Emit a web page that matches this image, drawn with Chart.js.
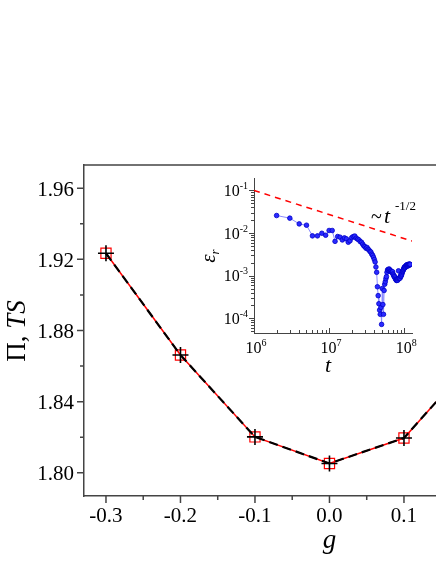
<!DOCTYPE html>
<html>
<head>
<meta charset="utf-8">
<script src="https://cdn.jsdelivr.net/npm/chart.js@4.4.0/dist/chart.umd.min.js"></script>
<style>
  body { margin: 0; background: #fff; }
  #wrap { position: relative; width: 436px; height: 564px; overflow: hidden; }
  #main { position: absolute; left: 0; top: 0; }
  #inset { position: absolute; left: 195px; top: 165px; }
</style>
</head>
<body>
<div id="wrap">
  <canvas id="main" width="436" height="564"></canvas>
  <canvas id="inset" width="241" height="215"></canvas>
</div>
<script>
// main panel: Pi and TS against g
const gValues = [-0.3, -0.2, -0.1, 0.0, 0.1, 0.2];
const piValues = [1.9234, 1.8662, 1.8202, 1.8053, 1.8196, 1.8665];
const tsValues = [1.9234, 1.8662, 1.8202, 1.8053, 1.8196, 1.8665];
const gTicks = [-0.3, -0.2, -0.1, 0.0, 0.1];
const gMinorTicks = [-0.25, -0.15, -0.05, 0.05];
const yTicks = [1.80, 1.84, 1.88, 1.92, 1.96];
const yMinorTicks = [1.82, 1.86, 1.90, 1.94];

// inset: relative error eps_r against t (t in millions)
const tMillions = [2, 3, 4, 5, 6, 7, 8, 9, 10, 11, 12, 13, 14, 15, 16, 17, 18, 19, 20,
  21, 22, 23, 24, 25, 26, 27, 28, 29, 30, 31, 32, 33, 34, 35, 36, 37, 38, 39, 40,
  41, 42, 43, 44, 45, 46, 47, 48, 49, 50, 51, 52, 53, 54, 55, 56, 57, 58, 59, 60,
  61, 62, 63, 64, 65, 66, 67, 68, 69, 70, 71, 72, 73, 74, 75, 76, 77, 78, 79, 80,
  81, 82, 83, 84, 85, 86, 87, 88, 89, 90, 91, 92, 93, 94, 95, 96, 97, 98, 99, 100,
  101, 102, 103, 104, 105, 106, 107, 108, 109, 110, 111, 112, 113, 114, 115, 116, 117, 118, 119, 120];
const epsValues = [0.0258, 0.0224, 0.0164, 0.0153, 0.0086, 0.0086, 0.0099, 0.0089, 0.0115, 0.0115,
  0.0064, 0.0083, 0.0080, 0.0069, 0.0077, 0.0073, 0.0061, 0.0066, 0.0078,
  0.0083, 0.0085, 0.0076, 0.0072, 0.0069, 0.0063, 0.0061, 0.0055, 0.0050, 0.0048,
  0.0044, 0.0046, 0.0042, 0.0040, 0.0037, 0.0036, 0.0032, 0.0030, 0.0027, 0.0024,
  0.0021, 0.0016, 0.0012, 0.00055, 0.00034, 0.00022, 0.000156, 0.000124, 0.00018, 0.000072,
  0.00050, 0.00021, 0.000124, 0.00045, 0.00063, 0.00072, 0.00085, 0.00095, 0.0012, 0.00136,
  0.00140, 0.00132, 0.00144, 0.00138, 0.00130, 0.00126, 0.00129, 0.00122, 0.00118, 0.00124,
  0.00110, 0.00104, 0.00098, 0.00093, 0.00095, 0.00088, 0.00082, 0.00080, 0.00077, 0.00079,
  0.00083, 0.00078, 0.00084, 0.0013, 0.00086, 0.00087, 0.00090, 0.00087, 0.00095, 0.00100,
  0.00098, 0.00104, 0.00110, 0.00118, 0.00125, 0.00130, 0.00136, 0.00140, 0.00148, 0.00155,
  0.00160, 0.00152, 0.00163, 0.00158, 0.00170, 0.00165, 0.00176, 0.00179, 0.00168, 0.00175,
  0.00182, 0.00170, 0.00178, 0.00172, 0.00185, 0.00180, 0.00188, 0.00178, 0.00183, 0.00185];
const guideT = [1e6, 1.27e8];
const guideEps = [0.1, 0.0065];
const tTicks = [1e6, 1e7, 1e8];
const tTickExp = ['6', '7', '8'];
const epsTicks = [1e-1, 1e-2, 1e-3, 1e-4];
const epsTickExp = ['-1', '-2', '-3', '-4'];

const SERIF = '"Liberation Serif", "DejaVu Serif", serif';
const AXIS = '#444';

// tick marks, tick labels, top frame and axis titles of the main panel
const mainExtras = {
    id: 'mainExtras',
    afterDraw(chart) {
        const ctx = chart.ctx;
        const area = chart.chartArea;
        const xs = chart.scales.x, ys = chart.scales.y;
        ctx.save();
        ctx.strokeStyle = AXIS;
        ctx.lineWidth = 1.5;
        ctx.beginPath();
        ctx.moveTo(area.left - 0.75, area.top);
        ctx.lineTo(area.right, area.top);
        gTicks.forEach(v => {
            const px = xs.getPixelForValue(v);
            ctx.moveTo(px, area.bottom);
            ctx.lineTo(px, area.bottom + 7);
        });
        gMinorTicks.forEach(v => {
            const px = xs.getPixelForValue(v);
            ctx.moveTo(px, area.bottom);
            ctx.lineTo(px, area.bottom + 4);
        });
        yTicks.forEach(v => {
            const py = ys.getPixelForValue(v);
            ctx.moveTo(area.left, py);
            ctx.lineTo(area.left - 7, py);
        });
        yMinorTicks.forEach(v => {
            const py = ys.getPixelForValue(v);
            ctx.moveTo(area.left, py);
            ctx.lineTo(area.left - 4, py);
        });
        ctx.stroke();

        ctx.fillStyle = '#000';
        ctx.textBaseline = 'alphabetic';
        ctx.font = '21px ' + SERIF;
        ctx.textAlign = 'center';
        gTicks.forEach(v => ctx.fillText(v.toFixed(1), xs.getPixelForValue(v), 522));
        ctx.textAlign = 'right';
        yTicks.forEach(v => ctx.fillText(v.toFixed(2), area.left - 10, ys.getPixelForValue(v) + 7.5));

        ctx.textAlign = 'left';
        // y title: "Π, TS" with TS in italics
        ctx.save();
        ctx.translate(25, 331);
        ctx.rotate(-Math.PI / 2);
        ctx.font = '27px ' + SERIF;
        const p1 = 'Π, ';
        const w1 = ctx.measureText(p1).width;
        ctx.font = 'italic 27px ' + SERIF;
        const w2 = ctx.measureText('TS').width;
        const x0 = -(w1 + w2) / 2;
        ctx.font = '27px ' + SERIF;
        ctx.fillText(p1, x0, 0);
        ctx.font = 'italic 27px ' + SERIF;
        ctx.fillText('TS', x0 + w1, 0);
        ctx.restore();
        // x title
        ctx.font = 'italic 27px ' + SERIF;
        ctx.textAlign = 'center';
        ctx.fillText('g', xs.getPixelForValue(0), 548);
        ctx.restore();
    }
};

new Chart(document.getElementById('main'), {
    type: 'line',
    data: {
        datasets: [
            {
                label: 'TS',
                data: gValues.map((g, i) => ({ x: g, y: tsValues[i] })),
                borderColor: '#000',
                borderWidth: 2.2,
                borderDash: [9, 5],
                pointStyle: 'cross',
                pointRadius: 8,
                pointBorderColor: '#000',
                pointBorderWidth: 1.6,
                fill: false
            },
            {
                label: 'Π',
                data: gValues.map((g, i) => ({ x: g, y: piValues[i] })),
                borderColor: '#ff0000',
                borderWidth: 1.5,
                pointStyle: 'rect',
                pointRadius: 7.2,
                pointBorderColor: '#ff0000',
                pointBackgroundColor: 'rgba(255,255,255,0)',
                pointBorderWidth: 1.2,
                fill: false
            }
        ]
    },
    options: {
        responsive: false,
        animation: false,
        layout: { autoPadding: false, padding: { left: 84, top: 165, right: 0, bottom: 68 } },
        plugins: { legend: { display: false }, tooltip: { enabled: false } },
        scales: {
            x: {
                type: 'linear',
                min: -0.3295,
                max: 0.143,
                ticks: { display: false },
                grid: { drawOnChartArea: false, drawTicks: false },
                border: { color: AXIS, width: 1.5 }
            },
            y: {
                min: 1.787,
                max: 1.973,
                ticks: { display: false },
                grid: { drawOnChartArea: false, drawTicks: false },
                border: { color: AXIS, width: 1.5 }
            }
        }
    },
    plugins: [mainExtras]
});

// inset: tick marks, powers-of-ten labels and texts
const OX = 195, OY = 165;
function powerLabel(ctx, exp, x, y, align) {
    ctx.font = '16px ' + SERIF;
    const wb = ctx.measureText('10').width;
    ctx.font = '10px ' + SERIF;
    const we = ctx.measureText(exp).width;
    let left = align === 'center' ? x - (wb + we) / 2 : x - wb - we;
    ctx.font = '16px ' + SERIF;
    ctx.fillText('10', left, y);
    ctx.font = '10px ' + SERIF;
    ctx.fillText(exp, left + wb, y - 7);
}

const insetExtras = {
    id: 'insetExtras',
    afterDraw(chart) {
        const ctx = chart.ctx;
        const area = chart.chartArea;
        const xs = chart.scales.x, ys = chart.scales.y;
        ctx.save();
        ctx.strokeStyle = AXIS;
        ctx.lineWidth = 1;
        ctx.beginPath();
        // x ticks point inward (up), y ticks outward (left)
        tTicks.forEach(d => {
            for (let k = 1; k <= 9; k++) {
                const v = d * k;
                if (v > xs.max) break;
                const px = Math.round(xs.getPixelForValue(v)) + 0.5;
                ctx.moveTo(px, area.bottom);
                ctx.lineTo(px, area.bottom - (k === 1 ? 5 : 3));
            }
        });
        epsTicks.concat([1e-5]).forEach(d => {
            for (let k = 1; k <= 9; k++) {
                const v = d * k;
                if (v < ys.min || v > ys.max) continue;
                const py = Math.round(ys.getPixelForValue(v)) + 0.5;
                ctx.moveTo(area.left, py);
                ctx.lineTo(area.left - (k === 1 ? 5 : 3), py);
            }
        });
        ctx.stroke();

        ctx.fillStyle = '#000';
        ctx.textAlign = 'left';
        ctx.textBaseline = 'alphabetic';
        tTicks.forEach((v, i) => powerLabel(ctx, tTickExp[i], xs.getPixelForValue(v) + 2, area.bottom + 20, 'center'));
        epsTicks.forEach((v, i) => powerLabel(ctx, epsTickExp[i], area.left - 6, ys.getPixelForValue(v) + 5.5, 'right'));

        // x title
        ctx.font = 'italic 22px ' + SERIF;
        ctx.textAlign = 'center';
        ctx.fillText('t', 328 - OX, 372 - OY);
        // y title: eps with subscript r
        ctx.save();
        ctx.translate(215 - OX, 256 - OY);
        ctx.rotate(-Math.PI / 2);
        ctx.textAlign = 'left';
        ctx.font = 'italic 21px ' + SERIF;
        const we = ctx.measureText('ε').width;
        ctx.font = 'italic 13px ' + SERIF;
        const wr = ctx.measureText('r').width;
        const x0 = -(we + wr) / 2;
        ctx.font = 'italic 21px ' + SERIF;
        ctx.fillText('ε', x0, 0);
        ctx.font = 'italic 13px ' + SERIF;
        ctx.fillText('r', x0 + we, 4);
        ctx.restore();
        // power law note
        ctx.textAlign = 'left';
        ctx.font = '20px ' + SERIF;
        ctx.fillText('~', 371 - OX, 223 - OY);
        ctx.font = 'italic 22px ' + SERIF;
        ctx.fillText('t', 384 - OX, 223 - OY);
        ctx.font = '13px ' + SERIF;
        ctx.fillText('-1/2', 395 - OX, 210 - OY);
        ctx.restore();
    }
};

new Chart(document.getElementById('inset'), {
    type: 'scatter',
    data: {
        datasets: [
            {
                label: 'eps_r',
                data: tMillions.map((t, i) => ({ x: t * 1e6, y: epsValues[i] })),
                showLine: true,
                borderColor: '#8c8cff',
                borderWidth: 1,
                pointRadius: 2.3,
                pointBackgroundColor: '#2a2aff',
                pointBorderColor: '#0000c8',
                pointBorderWidth: 0.8
            },
            {
                label: 't^-1/2',
                data: guideT.map((t, i) => ({ x: t, y: guideEps[i] })),
                showLine: true,
                borderColor: '#ff0000',
                borderWidth: 1.5,
                borderDash: [6, 5],
                pointRadius: 0
            }
        ]
    },
    options: {
        responsive: false,
        animation: false,
        layout: { autoPadding: false, padding: { left: 59, top: 13, right: 24, bottom: 47 } },
        plugins: { legend: { display: false }, tooltip: { enabled: false } },
        scales: {
            x: {
                type: 'logarithmic',
                min: 1e6,
                max: 1.27e8,
                ticks: { display: false },
                grid: { drawOnChartArea: false, drawTicks: false },
                border: { color: AXIS, width: 1 }
            },
            y: {
                type: 'logarithmic',
                min: 4.52e-5,
                max: 0.196,
                ticks: { display: false },
                grid: { drawOnChartArea: false, drawTicks: false },
                border: { color: AXIS, width: 1 }
            }
        }
    },
    plugins: [insetExtras]
});
</script>
</body>
</html>
